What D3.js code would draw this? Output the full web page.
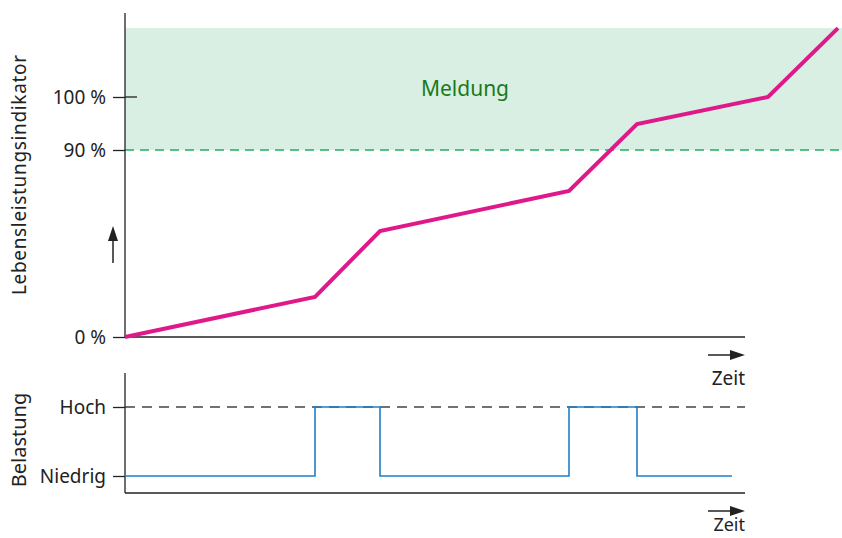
<!DOCTYPE html>
<html>
<head>
<meta charset="utf-8">
<script src="https://cdn.jsdelivr.net/npm/d3@7"></script>
<style>
  html, body { margin: 0; padding: 0; background: #fff; }
  svg { display: block; font-family: "Noto Sans", "Open Sans", sans-serif; }
</style>
</head>
<body>
<svg id="chart" width="842" height="538"></svg>
<script>
// Lebensdauer-Indikator (oben) und Belastungsprofil (unten) über der Zeit
const wearTime  = [0, 19, 25.5, 44.4, 51.2, 64.3, 71.3];
const wearValue = [0, 19.3, 51, 70.3, 94.9, 100, 113];

const loadTime  = [0, 19, 25.5, 44.4, 51.2, 60.7];
const loadLevel = ["Niedrig", "Hoch", "Niedrig", "Hoch", "Niedrig", "Niedrig"];

const wearTicks  = [0, 90, 100];
const loadLevels = ["Niedrig", "Hoch"];
const warnLimit  = 90;
const warnTop    = 113;
const warnLabel  = "Meldung";

const font = "'Noto Sans', 'Open Sans', sans-serif";
const svg = d3.select("#chart");
const ink = "#222";

const x = d3.scaleLinear().domain([0, 62]).range([125, 745]);
const yTop = d3.scaleLinear().domain([0, 90, 100]).range([337, 150, 97]);
const yBot = d3.scalePoint().domain(loadLevels).range([476, 407]);

// Warnbereich
svg.append("rect")
  .attr("x", x(0)).attr("y", yTop(warnTop))
  .attr("width", 842 - x(0)).attr("height", yTop(warnLimit) - yTop(warnTop))
  .attr("fill", "#d9efe3");

svg.append("line")
  .attr("x1", x(0)).attr("x2", 842)
  .attr("y1", yTop(warnLimit)).attr("y2", yTop(warnLimit))
  .attr("stroke", "#1fae5f").attr("stroke-width", 1.5)
  .attr("stroke-dasharray", "9,6");

svg.append("text")
  .attr("x", 465).attr("y", yTop(100) - 1)
  .attr("text-anchor", "middle")
  .attr("fill", "#1a7a1a").attr("font-size", 21)
  .text(warnLabel);

// Achsen oben
const axTop = svg.append("g").attr("transform", `translate(${x(0)},0)`)
  .call(d3.axisLeft(yTop).tickValues(wearTicks).tickSize(12).tickPadding(7)
        .tickFormat(d => d + " %"));
axTop.select(".domain").remove();
axTop.selectAll(".tick line").attr("stroke", ink).attr("stroke-width", 1.3);
axTop.selectAll(".tick text").attr("font-size", 19).attr("fill", ink)
  .attr("font-family", font);
// Tick für 100 % reicht in beide Richtungen
svg.append("line")
  .attr("x1", x(0)).attr("x2", x(0) + 12)
  .attr("y1", yTop(100)).attr("y2", yTop(100))
  .attr("stroke", ink).attr("stroke-width", 1.3);

svg.append("line")
  .attr("x1", x(0)).attr("x2", x(0))
  .attr("y1", 13).attr("y2", yTop(0))
  .attr("stroke", ink).attr("stroke-width", 1.3);
svg.append("line")
  .attr("x1", x(0)).attr("x2", x(62))
  .attr("y1", yTop(0)).attr("y2", yTop(0))
  .attr("stroke", ink).attr("stroke-width", 1.3);

// Kurve Lebensleistungsindikator
svg.append("path")
  .datum(wearTime.map((t, i) => [t, wearValue[i]]))
  .attr("fill", "none")
  .attr("stroke", "#e0198a").attr("stroke-width", 4)
  .attr("stroke-linejoin", "miter")
  .attr("d", d3.line().x(d => x(d[0])).y(d => yTop(d[1])));

// Achsen unten
svg.append("line")
  .attr("x1", x(0)).attr("x2", 745)
  .attr("y1", yBot("Hoch")).attr("y2", yBot("Hoch"))
  .attr("stroke", "#444").attr("stroke-width", 1.3)
  .attr("stroke-dasharray", "10,7");

const axBot = svg.append("g").attr("transform", `translate(${x(0)},0)`)
  .call(d3.axisLeft(yBot).tickSize(12).tickPadding(7));
axBot.select(".domain").remove();
axBot.selectAll(".tick line").attr("stroke", ink).attr("stroke-width", 1.3);
axBot.selectAll(".tick text").attr("font-size", 19).attr("fill", ink)
  .attr("font-family", font);

svg.append("line")
  .attr("x1", x(0)).attr("x2", x(0))
  .attr("y1", 373).attr("y2", 493)
  .attr("stroke", ink).attr("stroke-width", 1.3);
svg.append("line")
  .attr("x1", x(0)).attr("x2", x(62))
  .attr("y1", 493).attr("y2", 493)
  .attr("stroke", ink).attr("stroke-width", 1.3);

// Belastungsprofil
svg.append("path")
  .datum(loadTime.map((t, i) => [t, loadLevel[i]]))
  .attr("fill", "none")
  .attr("stroke", "#1f7fcc").attr("stroke-width", 1.6)
  .attr("d", d3.line().curve(d3.curveStepAfter).x(d => x(d[0])).y(d => yBot(d[1])));

// Pfeile
function arrow(x1, y1, x2, y2) {
  const dx = x2 - x1, dy = y2 - y1, len = Math.hypot(dx, dy);
  const ux = dx / len, uy = dy / len, hl = 15, hw = 5;
  const bx = x2 - ux * hl, by = y2 - uy * hl;
  svg.append("line").attr("x1", x1).attr("y1", y1).attr("x2", bx).attr("y2", by)
    .attr("stroke", ink).attr("stroke-width", 1.5);
  svg.append("path")
    .attr("d", `M${x2},${y2}L${bx - uy * hw},${by + ux * hw}L${bx + uy * hw},${by - ux * hw}Z`)
    .attr("fill", ink);
}
arrow(708, 355, 745, 355);
arrow(708, 511, 745, 511);
arrow(113, 263, 113, 226);

svg.append("text").attr("x", 745).attr("y", 385).attr("text-anchor", "end")
  .attr("font-size", 19).attr("fill", ink).text("Zeit");
svg.append("text").attr("x", 745).attr("y", 531).attr("text-anchor", "end")
  .attr("font-size", 18).attr("fill", ink).text("Zeit");

// Achsentitel
svg.append("text")
  .attr("transform", "translate(26,175) rotate(-90)")
  .attr("text-anchor", "middle").attr("font-size", 19).attr("fill", ink)
  .attr("textLength", 240).attr("lengthAdjust", "spacing")
  .text("Lebensleistungsindikator");
svg.append("text")
  .attr("transform", "translate(26,440) rotate(-90)")
  .attr("text-anchor", "middle").attr("font-size", 20).attr("fill", ink)
  .text("Belastung");
</script>
</body>
</html>
